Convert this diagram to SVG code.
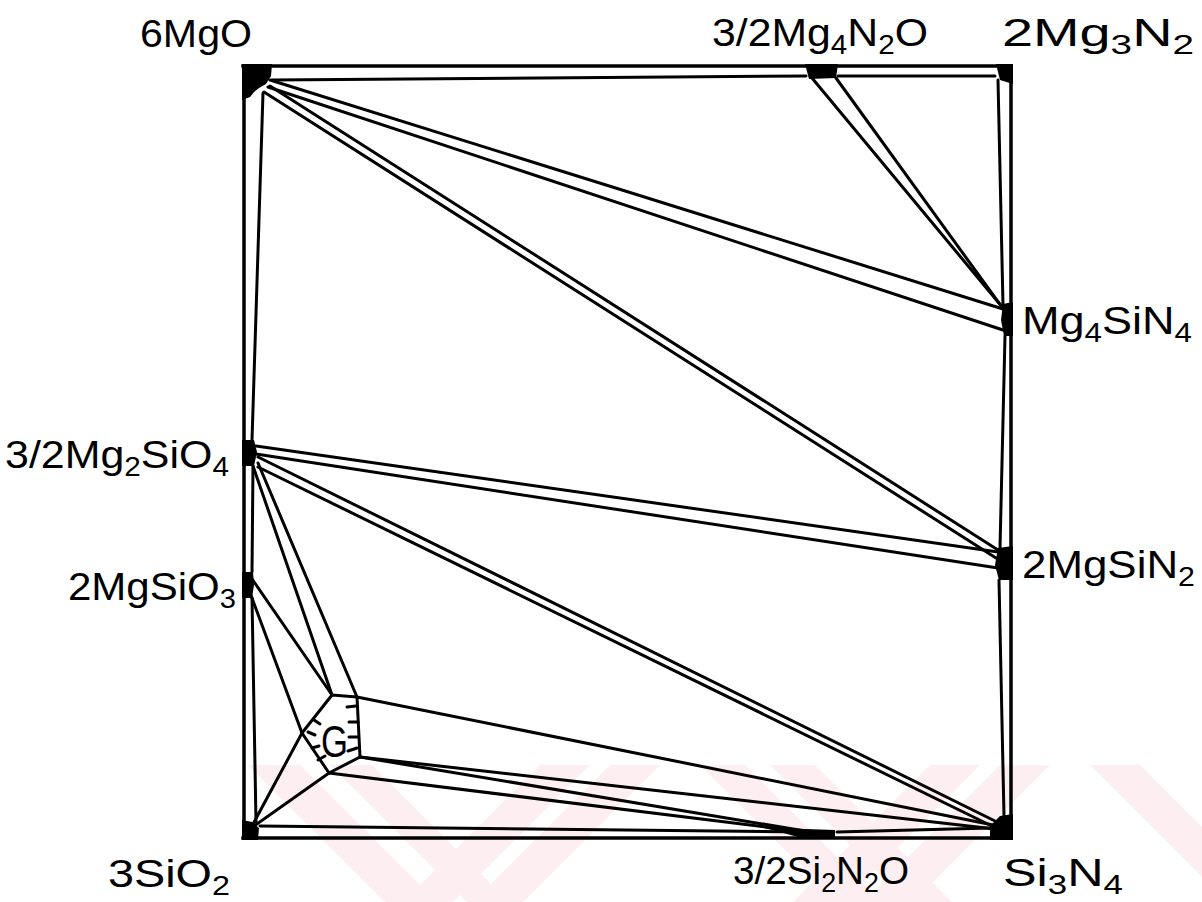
<svg xmlns="http://www.w3.org/2000/svg" width="1202" height="902" viewBox="0 0 1202 902">
<style>
.l{stroke:#000;stroke-width:3;fill:none;stroke-linecap:round;stroke-linejoin:round}
.f{stroke:#000;stroke-width:3.5;fill:none;stroke-linecap:square}
.b{fill:#000;stroke:none}
.t{font-family:"Liberation Sans",Arial,sans-serif;font-size:39px;fill:#000}
.s{font-size:27px}
.wm{fill:#fdeef1;stroke:none}
</style>
<rect x="0" y="0" width="1202" height="902" fill="#fff"/>
<g id="watermark">
<polygon class="wm" points="248,765 300,765 437,902 385,902"/>
<polygon class="wm" points="330,765 372,765 509,902 467,902"/>
<polygon class="wm" points="540,765 590,765 453,902 403,902"/>
<polygon class="wm" points="610,765 660,765 523,902 473,902"/>
<polygon class="wm" points="700,765 745,765 882,902 837,902"/>
<polygon class="wm" points="770,765 815,765 952,902 907,902"/>
<polygon class="wm" points="930,765 980,765 843,902 793,902"/>
<polygon class="wm" points="1000,765 1050,765 913,902 863,902"/>
<polygon class="wm" points="1090,765 1140,765 1202,827 1202,877"/>
</g>
<g id="frame">
<line class="f" x1="243" y1="66" x2="1011" y2="66"/>
<line class="f" x1="1011" y1="66" x2="1011" y2="838"/>
<line class="f" x1="243" y1="838" x2="1011" y2="838"/>
<line class="f" x1="244" y1="66" x2="244" y2="838"/>
<path class="l" d="M272,80 L806,76"/>
<path class="l" d="M838,76 L995,76"/>
<path class="l" d="M998,80 L1003,305"/>
<path class="l" d="M1005,336 L1000,548"/>
<path class="l" d="M999,580 L1004,816"/>
<path class="l" d="M260,826 L805,832"/>
<path class="l" d="M837,832 L990,828"/>
<path class="l" d="M263,93 L252,440"/>
<path class="l" d="M253,466 L252,572"/>
<path class="l" d="M252,598 L256,822"/>
</g>
<g id="connectors">
<path class="l" d="M270,80 L1003,309"/>
<path class="l" d="M268,87 L1003,330"/>
<path class="l" d="M270,86 L998,550"/>
<path class="l" d="M264,92 L996,558"/>
<path class="l" d="M812,78 L1003,308"/>
<path class="l" d="M836,78 L1004,310"/>
<path class="l" d="M256,446 L998,552"/>
<path class="l" d="M256,454 L998,568"/>
<path class="l" d="M258,457 L995,821"/>
<path class="l" d="M258,467 L998,829"/>
<path class="l" d="M253,466 L332,695"/>
<path class="l" d="M258,463 L357,697"/>
<path class="l" d="M250,576 L332,695"/>
<path class="l" d="M249,590 L302,733"/>
<path class="l" d="M357,697 L998,826"/>
<path class="l" d="M360,757 L995,829"/>
<path class="l" d="M360,757 L805,831"/>
<path class="l" d="M329,773 L790,830"/>
<path class="l" d="M252,826 L302,733"/>
<path class="l" d="M254,826 L329,773"/>
</g>
<g id="G">
<polygon class="l" points="332,695 357,697 360,757 329,773 302,733"/>
<path class="l" d="M314,720 L320,724 M308,732 L315,735 M312,748 L319,746 M318,760 L325,756 M347,707 L356,706 M349,722 L358,722 M349,737 L358,737 M348,751 L357,748"/>
<text class="t" x="321" y="757" textLength="27" lengthAdjust="spacingAndGlyphs" style="font-size:44px">G</text>
</g>
<g id="n-6MgO">
<polygon class="b" points="242,64 272,64 271,76 266,84 259,88 254,92 250,97 242,100"/>
<text class="t" x="140" y="47" textLength="112" lengthAdjust="spacingAndGlyphs">6MgO</text>
</g>
<g id="n-Mg4N2O">
<polygon class="b" points="805,64 838,64 836,78 809,79"/>
<text class="t" x="712" y="46" textLength="216" lengthAdjust="spacingAndGlyphs">3/2Mg<tspan class="s" dy="8">4</tspan><tspan dy="-8">N</tspan><tspan class="s" dy="8">2</tspan><tspan dy="-8">O</tspan></text>
</g>
<g id="n-Mg3N2">
<polygon class="b" points="996,64 1013,64 1013,84 1000,80"/>
<text class="t" x="1002" y="46" textLength="192" lengthAdjust="spacingAndGlyphs">2Mg<tspan class="s" dy="8">3</tspan><tspan dy="-8">N</tspan><tspan class="s" dy="8">2</tspan></text>
</g>
<g id="n-Mg4SiN4">
<polygon class="b" points="1003,304 1013,302 1013,336 1004,336 1001,320"/>
<text class="t" x="1022" y="334" textLength="170" lengthAdjust="spacingAndGlyphs">Mg<tspan class="s" dy="8">4</tspan><tspan dy="-8">SiN</tspan><tspan class="s" dy="8">4</tspan></text>
</g>
<g id="n-MgSiN2">
<polygon class="b" points="998,548 1013,546 1013,580 999,580 995,565"/>
<text class="t" x="1022" y="578" textLength="173" lengthAdjust="spacingAndGlyphs">2MgSiN<tspan class="s" dy="8">2</tspan></text>
</g>
<g id="n-Si3N4">
<polygon class="b" points="990,826 1000,816 1013,814 1013,840 990,840"/>
<text class="t" x="1003" y="886" textLength="120" lengthAdjust="spacingAndGlyphs">Si<tspan class="s" dy="8">3</tspan><tspan dy="-8">N</tspan><tspan class="s" dy="8">4</tspan></text>
</g>
<g id="n-Si2N2O">
<polygon class="b" points="760,827 805,829 835,830 835,839 805,839 780,832"/>
<text class="t" x="733" y="884" textLength="176" lengthAdjust="spacingAndGlyphs">3/2Si<tspan class="s" dy="8">2</tspan><tspan dy="-8">N</tspan><tspan class="s" dy="8">2</tspan><tspan dy="-8">O</tspan></text>
</g>
<g id="n-SiO2">
<polygon class="b" points="242,820 252,822 259,828 258,840 242,840"/>
<text class="t" x="108" y="887" textLength="122" lengthAdjust="spacingAndGlyphs">3SiO<tspan class="s" dy="8">2</tspan></text>
</g>
<g id="n-Mg2SiO4">
<polygon class="b" points="242,440 254,440 257,452 254,466 242,466"/>
<text class="t" x="5" y="468" textLength="224" lengthAdjust="spacingAndGlyphs">3/2Mg<tspan class="s" dy="8">2</tspan><tspan dy="-8">SiO</tspan><tspan class="s" dy="8">4</tspan></text>
</g>
<g id="n-MgSiO3">
<polygon class="b" points="242,572 253,572 254,585 252,598 242,598"/>
<text class="t" x="68" y="600" textLength="168" lengthAdjust="spacingAndGlyphs">2MgSiO<tspan class="s" dy="8">3</tspan></text>
</g>
</svg>
